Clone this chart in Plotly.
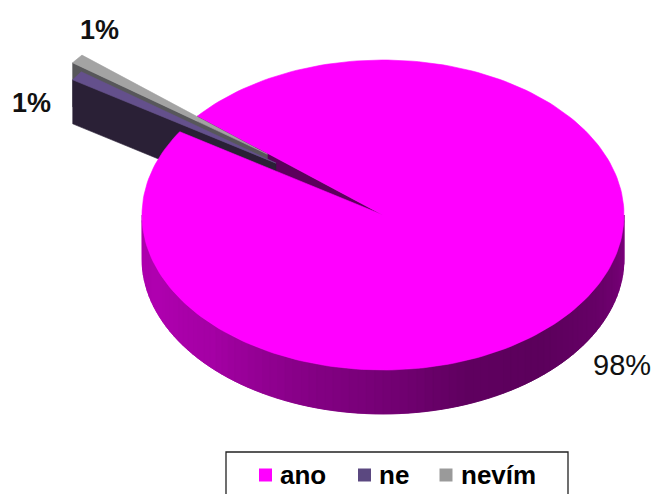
import math
import plotly.graph_objects as go

# Survey shares, in pie order starting from the exploded slices
categories = ["ne", "nevím", "ano"]
shares = [1, 1, 98]
top_colors = ["#64508c", "#a3a3a3", "#ff00ff"]
face_colors = ["#2a2036", "#57575a", "#5c005c"]
explode = [0.556, 0.62, 0.0]
explode_dir = [143, 140.7, 0]

labels = ["1%", "1%", "98%"]
label_x = [31, 99, 622]
label_y = [103, 30, 365]
label_bold = [True, True, False]
label_size = [27, 27, 29]

legend_names = ["ano", "ne", "nevím"]
legend_colors = ["#ff00ff", "#5b4880", "#9a9a9a"]
legend_marker_x = [265.5, 364.5, 446]
legend_text_x = [278, 377, 459]

# Shading of the disc rim: angle in degrees, grey level of the magenta
rim_angles = [180, 200, 225, 250, 270, 290, 310, 335, 360]
rim_levels = [170, 176, 165, 135, 118, 96, 92, 105, 125]

CX, CY = 383, 215
RX, RY = 241, 155
DEPTH = 44
START = 147.5


def ell(theta, ox=0.0, oy=0.0):
    r = math.radians(theta)
    return CX + ox + RX * math.cos(r), CY + oy - RY * math.sin(r)


def poly(points, color):
    xs = [p[0] for p in points] + [points[0][0]]
    ys = [p[1] for p in points] + [points[0][1]]
    return go.Scatter(x=xs, y=ys, mode="lines", fill="toself", fillcolor=color,
                      line=dict(color=color, width=0.6), hoverinfo="skip",
                      showlegend=False)


def rim_level(theta):
    for i in range(len(rim_angles) - 1):
        if rim_angles[i] <= theta <= rim_angles[i + 1]:
            f = (theta - rim_angles[i]) / (rim_angles[i + 1] - rim_angles[i])
            return rim_levels[i] + f * (rim_levels[i + 1] - rim_levels[i])
    return rim_levels[-1]


# Slice extents, clockwise from the start angle
spans = []
angle = START
for share in shares:
    sweep = 360 * share / sum(shares)
    spans.append((angle, angle - sweep))
    angle -= sweep

fig = go.Figure()

# Rim of the main disc; each band runs under the next so no seams show
step = 2
for a in range(180, 360, step):
    level = int(rim_level(a + step / 2))
    color = f"rgb({level},0,{level})"
    end = min(a + 2 * step, 360)
    arc_top = [ell(a + (end - a) * k / 4) for k in range(5)]
    arc_bot = [ell(a + (end - a) * k / 4, 0, DEPTH) for k in range(4, -1, -1)]
    fig.add_trace(poly(arc_top + arc_bot, color))

# Cut face of the main slice seen through the gap
t0 = spans[2][0]
tip = ell(t0)
fig.add_trace(poly([(CX, CY), tip, (tip[0], tip[1] + DEPTH), (CX, CY + DEPTH)], face_colors[2]))

# Exploded slices, the farther one first
for i in (1, 0):
    a0, a1 = spans[i]
    r = math.radians(explode_dir[i])
    ox = explode[i] * RX * math.cos(r)
    oy = -explode[i] * RY * math.sin(r)
    apex = (CX + ox, CY + oy)
    outer = [ell(a0 + (a1 - a0) * k / 4, ox, oy) for k in range(5)]
    low = outer[0]
    fig.add_trace(poly([apex, low, (low[0], low[1] + DEPTH), (apex[0], apex[1] + DEPTH)], face_colors[i]))
    fig.add_trace(poly([apex] + outer, top_colors[i]))

# Top of the main slice
a0, a1 = spans[2]
n = 240
arc = [ell(a0 + (a1 - a0) * k / n) for k in range(n + 1)]
fig.add_trace(poly([(CX, CY)] + arc, top_colors[2]))

# Legend entries
fig.add_trace(go.Scatter(x=legend_marker_x, y=[475] * 3, mode="markers",
                         marker=dict(symbol="square", size=13, color=legend_colors),
                         hoverinfo="skip", showlegend=False))

for text, x, y, bold, size in zip(labels, label_x, label_y, label_bold, label_size):
    shown = f"<b>{text}</b>" if bold else text
    fig.add_annotation(x=x, y=y, text=shown, showarrow=False, xanchor="center", yanchor="middle",
                       font=dict(family="Liberation Sans", size=size, color="#111111"))
for text, x in zip(legend_names, legend_text_x):
    fig.add_annotation(x=x, y=475, text=f"<b>{text}</b>", showarrow=False, xanchor="left", yanchor="middle",
                       font=dict(family="Liberation Sans", size=26, color="#000000"))

fig.add_shape(type="rect", x0=226, y0=452, x1=568, y1=510, line=dict(color="#222222", width=1.3),
              layer="below")

fig.update_layout(
    width=654, height=494, margin=dict(l=0, r=0, t=0, b=0),
    paper_bgcolor="white", plot_bgcolor="white",
    xaxis=dict(range=[0, 654], visible=False, fixedrange=True),
    yaxis=dict(range=[494, 0], visible=False, fixedrange=True),
    showlegend=False,
)
fig.write_html("out.html", config={"displayModeBar": False})
